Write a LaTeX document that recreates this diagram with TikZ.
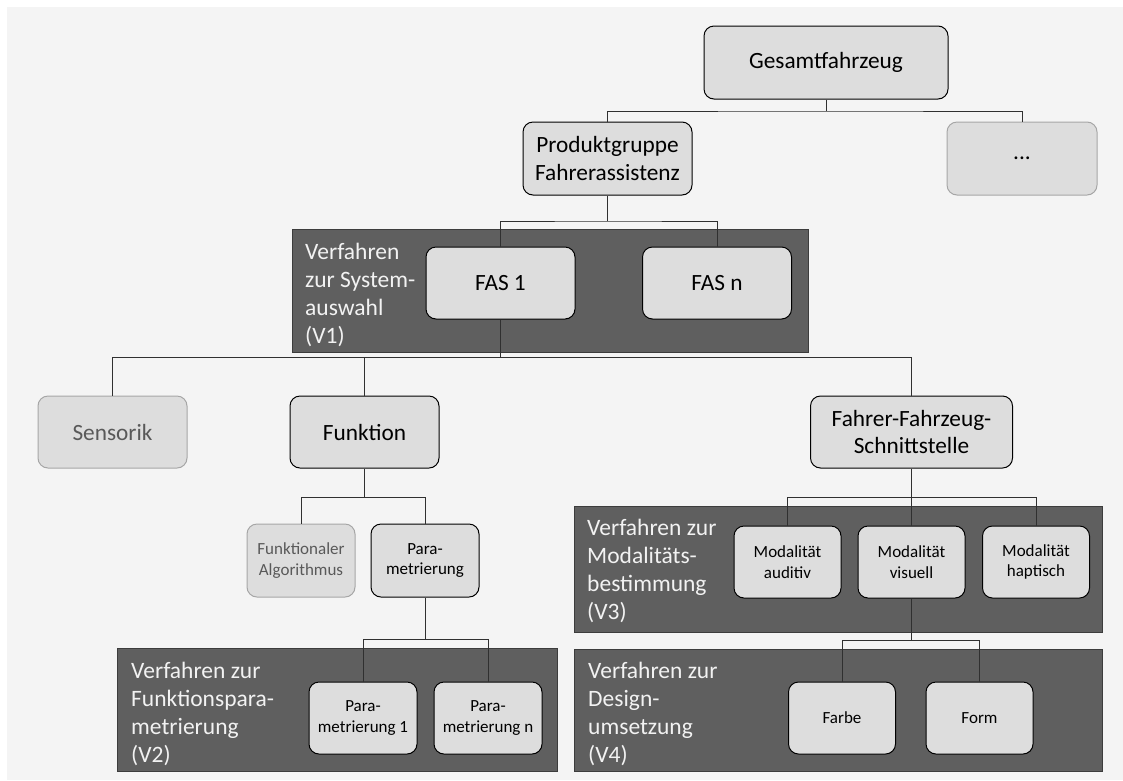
\documentclass[tikz,border=0pt]{standalone}
\usepackage{fontspec}
\setmainfont{Carlito}
\definecolor{bggray}{HTML}{F4F4F4}
\definecolor{boxgray}{HTML}{DDDDDD}
\definecolor{vfill}{HTML}{5F5F5F}
\definecolor{vborder}{HTML}{3C3C3C}
\definecolor{vtext}{HTML}{F2F2F2}
\definecolor{fadedline}{HTML}{A6A6A6}
\definecolor{fadedtext}{HTML}{595959}
\definecolor{connline}{HTML}{303030}

\begin{document}
\begin{tikzpicture}[x=1pt,y=-1pt,
        box/.style={draw=black, fill=boxgray, rounded corners=10pt, line width=1pt, align=center, inner sep=2pt, minimum width=149pt, minimum height=72pt, font=\fontsize{23.3}{27.5}\selectfont},
        smallbox/.style={box, minimum width=107pt, font=\fontsize{17}{20.5}\selectfont},
        faded/.style={draw=fadedline, text=fadedtext},
        verfahren/.style={draw=vborder, fill=vfill, line width=0.8pt},
        vlabel/.style={anchor=west, align=left, inner sep=0pt, text=vtext, font=\fontsize{23.5}{28.3}\selectfont},
        conn/.style={draw=connline, line width=1pt}]
        \useasboundingbox (0,0) rectangle (1123,780);
        \fill[white] (0,0) rectangle (1123,780);
        \fill[bggray] (7,7) rectangle (1123,780);

        \draw[verfahren] (292,229) rectangle (808,352);
        \draw[verfahren] (117,648) rectangle (557,771);
        \draw[verfahren] (574,506) rectangle (1102,632);
        \draw[verfahren] (574,649) rectangle (1102,771);
        \node[vlabel] (v1) at (305,295) {Verfahren\\zur System-\\auswahl\\(V1)};
        \node[vlabel] (v2) at (131,714) {Verfahren zur\\Funktionspara-\\metrierung\\(V2)};
        \node[vlabel] (v3) at (587,571) {Verfahren zur\\Modalitäts-\\bestimmung\\(V3)};
        \node[vlabel] (v4) at (588,714) {Verfahren zur\\Design-\\umsetzung\\(V4)};

        \node[box, minimum width=244pt, minimum height=73pt] (gesamt) at (826,62.5) {Gesamtfahrzeug};
        \node[box, minimum width=169pt, minimum height=73pt] (prod) at (607.5,158.5) {Produktgruppe\\Fahrerassistenz};
        \node[box, faded, text=black, minimum width=150pt, minimum height=73pt] (etc) at (1022,158.5) {...};
        \node[box] (fas1) at (500.5,283) {FAS 1};
        \node[box] (fasn) at (717,283) {FAS n};
        \node[box, faded] (sens) at (112.5,432) {Sensorik};
        \node[box] (funk) at (364.5,432) {Funktion};
        \node[box, minimum width=202pt] (ffs) at (911.5,432) {Fahrer-Fahrzeug-\\Schnittstelle};
        \node[smallbox, faded, minimum width=108pt, minimum height=73pt] (alg) at (301,560.5) {Funktionaler\\Algorithmus};
        \node[smallbox, minimum width=108pt, minimum height=73pt] (param) at (425,560.5) {Para-\\metrierung};
        \node[smallbox, minimum width=108pt] (para1) at (363,718) {Para-\\metrierung 1};
        \node[smallbox, minimum width=108pt] (paran) at (488,718) {Para-\\metrierung n};
        \node[smallbox] (aud) at (787.5,562) {Modalität\\auditiv};
        \node[smallbox] (vis) at (911.5,562) {Modalität\\visuell};
        \node[smallbox] (hap) at (1036,562) {Modalität\\haptisch};
        \node[smallbox] (farbe) at (842,718) {Farbe};
        \node[smallbox] (form) at (979.5,718) {Form};

        \draw[conn] (gesamt) -- (gesamt |- 0,111) coordinate (j1);
        \draw[conn] (prod) |- (j1) -| (etc);
        \draw[conn] (prod) -- (prod |- 0,221) coordinate (j2);
        \draw[conn] (fas1) |- (j2) -| (fasn);
        \draw[conn] (fas1) -- (fas1 |- 0,357) coordinate (j3);
        \draw[conn] (sens) |- (j3) -| (ffs);
        \draw[conn] (funk) -- (funk |- j3);
        \draw[conn] (funk) -- (funk |- 0,497) coordinate (j4);
        \draw[conn] (alg) |- (j4) -| (param);
        \draw[conn] (param) -- (param |- 0,639) coordinate (j5);
        \draw[conn] (para1) |- (j5) -| (paran);
        \draw[conn] (ffs) -- (ffs |- 0,497) coordinate (j6);
        \draw[conn] (aud) |- (j6) -| (hap);
        \draw[conn] (vis) -- (vis |- j6);
        \draw[conn] (vis) -- (vis |- 0,640) coordinate (j7);
        \draw[conn] (farbe) |- (j7) -| (form);
    \end{tikzpicture}
\end{document}
